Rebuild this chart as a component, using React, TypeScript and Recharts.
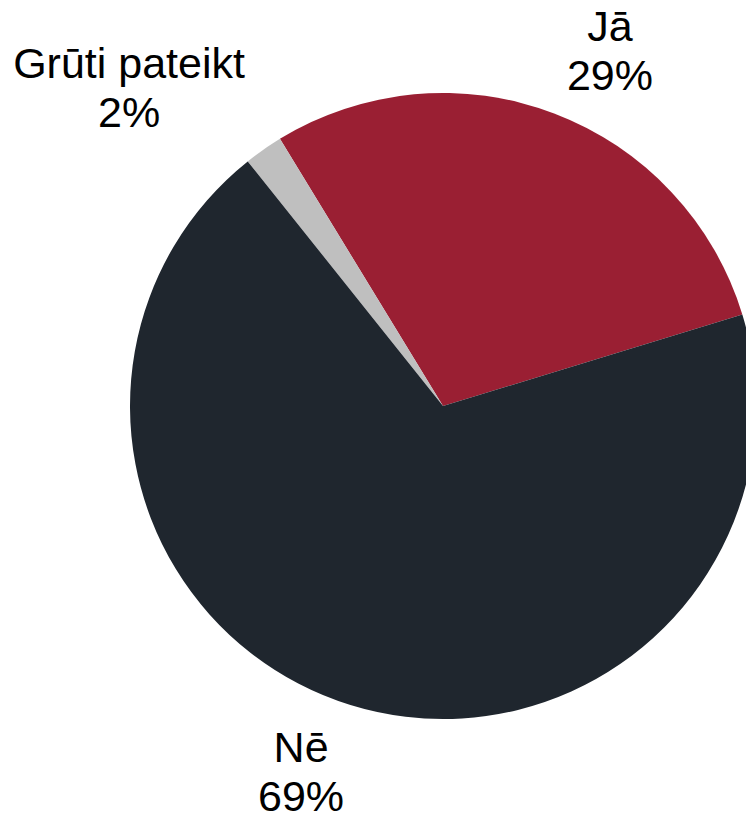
import React from 'react';
import { PieChart, Pie, Cell } from 'recharts';

const answers = ['Jā', 'Grūti pateikt', 'Nē'];
const shares = [29, 2, 69];
const colors = ['#9A1F33', '#BFBFBF', '#1F262E'];

// label placement per slice: distance from centre and angle shift from the slice middle
const labelSpots: Record<string, { dist: number; shift: number }> = {
  'Jā': { dist: 401, shift: -3.8 },
  'Grūti pateikt': { dist: 454, shift: 8.75 },
  'Nē': { dist: 383, shift: -4.55 },
};

const data = answers.map((name, i) => ({ name, value: shares[i] }));

const RADIAN = Math.PI / 180;

const renderLabel = (props: any) => {
  const { cx, cy, midAngle, name, value } = props;
  const spot = labelSpots[name];
  const a = (midAngle + spot.shift) * RADIAN;
  const x = cx + spot.dist * Math.cos(-a);
  const y = cy + spot.dist * Math.sin(-a);
  return (
    <text
      x={x}
      y={y}
      textAnchor="middle"
      fill="#000"
      fontSize={43}
      fontFamily="'Liberation Sans', Arial, sans-serif"
    >
      <tspan x={x} y={y}>{name}</tspan>
      <tspan x={x} y={y + 49}>{`${value}%`}</tspan>
    </text>
  );
};

const App: React.FC = () => {
  return (
    <div style={{ position: 'absolute', left: 0, top: 0 }}>
      <PieChart width={746} height={813} margin={{ top: 0, right: 0, bottom: 0, left: 0 }}>
        <Pie
          data={data}
          dataKey="value"
          nameKey="name"
          cx={443}
          cy={406}
          outerRadius={313}
          startAngle={17}
          endAngle={377}
          stroke="none"
          label={renderLabel}
          labelLine={false}
          isAnimationActive={false}
        >
          {data.map((d, i) => (
            <Cell key={d.name} fill={colors[i]} />
          ))}
        </Pie>
      </PieChart>
    </div>
  );
};

export default App;
